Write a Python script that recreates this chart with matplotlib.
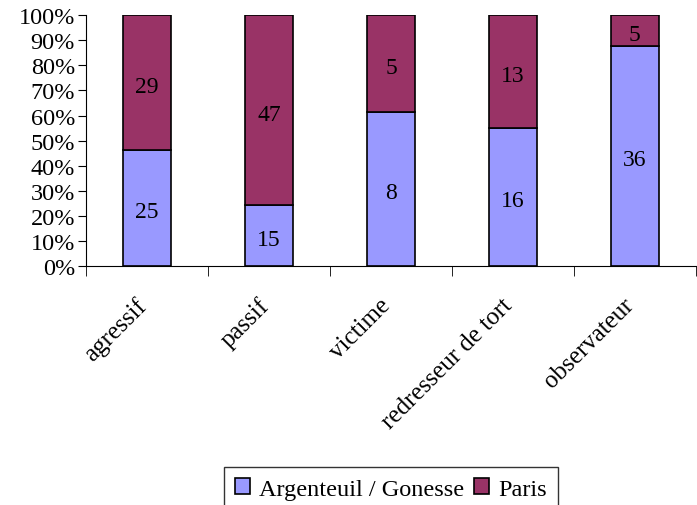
import numpy as np
import matplotlib
matplotlib.use('Agg')
import matplotlib.pyplot as plt
import matplotlib.transforms as mtransforms

categories = ['agressif', 'passif', 'victime', 'redresseur de tort', 'observateur']
argenteuil = [25, 15, 8, 16, 36]
paris = [29, 47, 5, 13, 5]
yticks = [0, 10, 20, 30, 40, 50, 60, 70, 80, 90, 100]

plt.rcParams['font.family'] = ['Liberation Serif', 'DejaVu Serif']

fig = plt.figure(figsize=(6.97, 5.06), dpi=100)
ax = fig.add_axes([0.1234, 0.4723, 0.875, 0.4957])

a = np.array(argenteuil, dtype=float)
p = np.array(paris, dtype=float)
tot = a + p
a_pct = a / tot * 100
p_pct = p / tot * 100
x = np.arange(len(categories))

ax.bar(x, a_pct, 0.39, color='#9999FF', edgecolor='black', linewidth=1.2,
       label='Argenteuil / Gonesse')
ax.bar(x, p_pct, 0.39, bottom=a_pct, color='#993366', edgecolor='black',
       linewidth=1.2, label='Paris')

for i in range(len(x)):
    ax.text(x[i], a_pct[i] / 2 - 1.5, str(argenteuil[i]), ha='center', va='center', fontsize=17)
    ax.text(x[i], a_pct[i] + p_pct[i] / 2 - 1.5, str(paris[i]), ha='center', va='center', fontsize=17)

ax.set_xlim(-0.5, len(categories) - 0.5)
ax.set_ylim(0, 100)
ax.set_yticks(yticks)
ax.set_yticklabels([f'{v}%' for v in yticks], fontsize=17.5)
ax.set_xticks(x)
ax.set_xticklabels(categories, rotation=45, ha='right', rotation_mode='anchor', fontsize=18)
ax.tick_params(axis='x', length=0, pad=20)
offset = mtransforms.ScaledTranslation(-12 / 100, 0, fig.dpi_scale_trans)
for lab in ax.get_xticklabels():
    lab.set_transform(lab.get_transform() + offset)
ax.set_xticks(np.arange(len(categories) + 1) - 0.5, minor=True)
ax.tick_params(axis='x', which='minor', length=7, direction='out')
ax.tick_params(axis='y', length=6, direction='out', pad=2)
ax.spines['top'].set_visible(False)
ax.spines['right'].set_visible(False)

leg = fig.legend(loc='lower center', bbox_to_anchor=(0.561, -0.035), ncol=2, fontsize=17.5,
                 frameon=True, fancybox=False, edgecolor='black', handlelength=0.6,
                 handleheight=0.6, handletextpad=0.4, columnspacing=0.4, borderpad=0.45)
leg.get_frame().set_linewidth(1.0)

fig.savefig('out.png', dpi=100)
